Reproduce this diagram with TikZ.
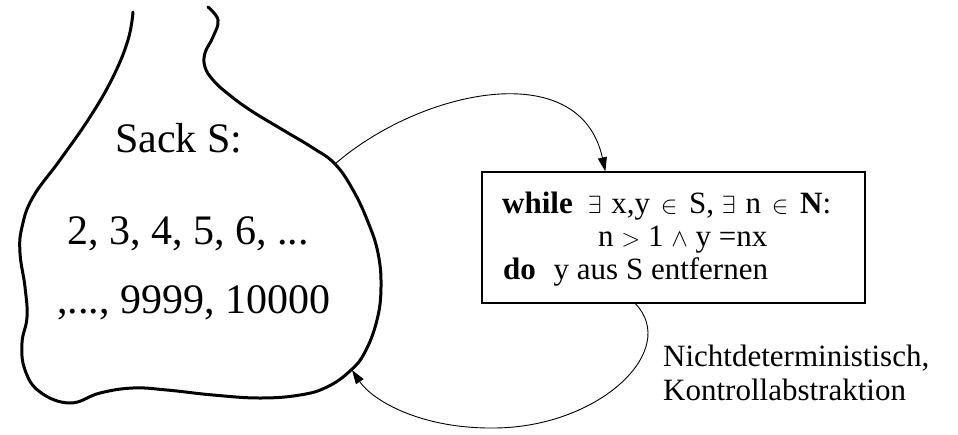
\documentclass[tikz,border=0pt]{standalone}
\usepackage{fontspec}
\setmainfont{Liberation Serif}
\usetikzlibrary{arrows.meta,calc}
\begin{document}
\begin{tikzpicture}[x=1pt,y=-1pt,
  sackline/.style={line width=3pt,line cap=round,line join=round},
  conn/.style={line width=0.9pt,-{Triangle[length=14pt,width=9pt]}},
  boxstyle/.style={draw,line width=1.3pt,minimum width=383pt,minimum height=131pt,inner sep=0pt},
  bigtext/.style={font=\fontsize{42}{46}\selectfont,inner sep=0pt,anchor=base west},
  midtext/.style={font=\fontsize{31}{34}\selectfont,inner sep=0pt,anchor=base west}]
\useasboundingbox (0,0) rectangle (958,434);
% sack
\draw[sackline] plot[smooth,tension=0.7] coordinates {
 (208,7) (218,20) (213,37) (205,53) (205,67) (213,80) (227,93) (250,110) (283,130)
 (313,148) (335,164) (353,190) (368,222) (378,253) (381,287) (377,320) (365,352)
 (350,371) (327,387) (300,395) (260,398) (213,395) (167,390) (133,388) (100,393)
 (70,403) (40,392) (25,370) (22,343) (27,317) (25,287) (20,253) (22,227) (33,197)
 (60,160) (90,117) (113,77) (128,40) (133,12)};
\coordinate (s1) at (335,164);
\coordinate (s2) at (352,370);
\node[bigtext] (t1) at (115,152) {Sack S:};
\node[bigtext] (t2) at (67,244) {2, 3, 4, 5, 6, ...};
\node[bigtext] (t3) at (57,313) {,..., 9999, 10000};
% box
\node[boxstyle] (box) at (673.5,237.5) {};
\node[midtext] (w1) at (502,213) {\textbf{while}\hspace{15pt}$\exists$\hspace{2pt} x,y\hspace{3pt} $\in$\hspace{4pt} S, $\exists$\hspace{2pt} n\hspace{3pt} $\in$\hspace{4pt} \textbf{N}:};
\node[midtext] (w2) at (598,246) {n $>$ 1 $\wedge$ y =nx};
\node[midtext] (w3) at (503,279) {\textbf{do}\hspace{10pt} y aus S entfernen};
\node[midtext,align=left,anchor=north west] (lab) at (663,345) {Nichtdeterministisch,\\Kontrollabstraktion};
% connectors
\coordinate (b1) at ([xshift=124pt]box.north west);
\coordinate (b2) at ([xshift=154pt]box.south west);
\draw[conn] (s1) .. controls (420,90) and (580,55) .. (b1);
\draw[conn] (b2) .. controls (680,350) and (600,427) .. (495,428)
            .. controls (420,429) and (372,400) .. (s2);
\end{tikzpicture}
\end{document}
